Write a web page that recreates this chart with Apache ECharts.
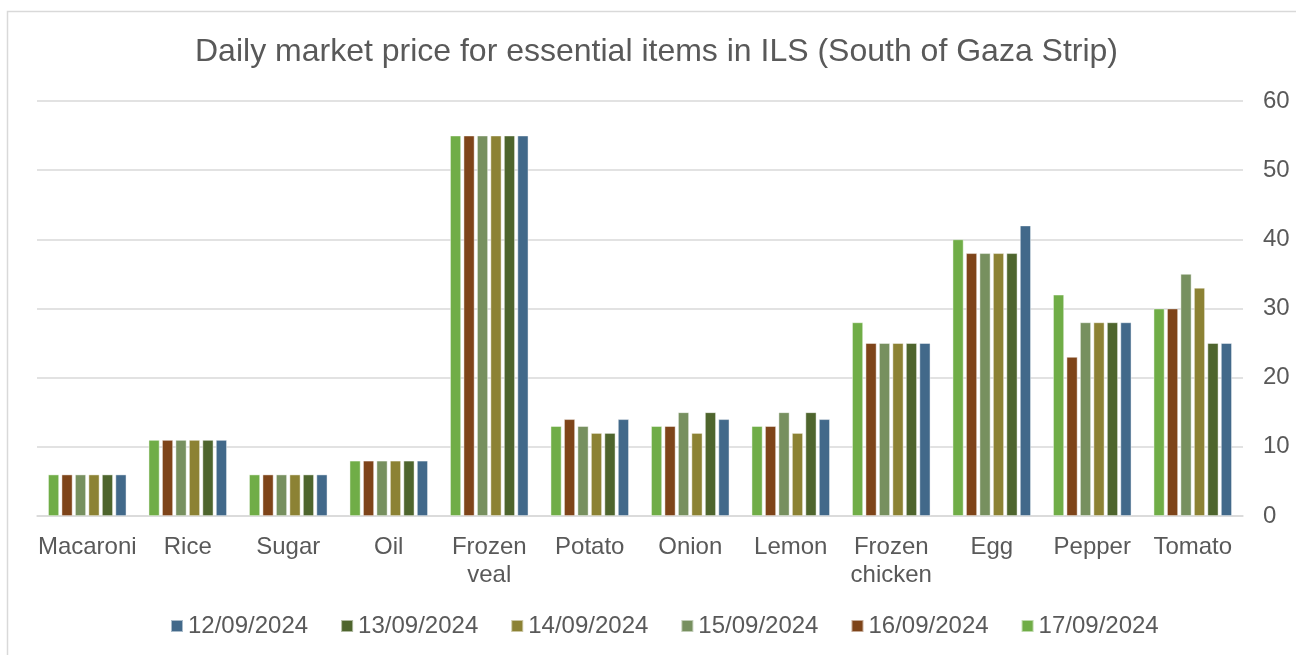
<!DOCTYPE html>
<html>
<head>
<meta charset="utf-8">
<title>Daily market price for essential items in ILS</title>
<script src="https://cdn.jsdelivr.net/npm/echarts@6/dist/echarts.min.js"></script>
<style>
  html, body { margin: 0; padding: 0; background: #fff; }
  #chart { width: 1296px; height: 655px; }
</style>
</head>
<body>
<div id="chart"></div>
<script>
// categories on the x axis
var categories = ['Macaroni', 'Rice', 'Sugar', 'Oil', 'Frozen\nveal', 'Potato', 'Onion',
  'Lemon', 'Frozen\nchicken', 'Egg', 'Pepper', 'Tomato'];

// prices per day (ILS), same order as categories
var d17 = [6, 11, 6, 8, 55, 13, 13, 13, 28, 40, 32, 30];
var d16 = [6, 11, 6, 8, 55, 14, 13, 13, 25, 38, 23, 30];
var d15 = [6, 11, 6, 8, 55, 13, 15, 15, 25, 38, 28, 35];
var d14 = [6, 11, 6, 8, 55, 12, 12, 12, 25, 38, 28, 33];
var d13 = [6, 11, 6, 8, 55, 12, 15, 15, 25, 38, 28, 25];
var d12 = [6, 11, 6, 8, 55, 14, 14, 14, 25, 42, 28, 25];

var yTicks = [0, 10, 20, 30, 40, 50, 60];

// bars are drawn 17/09 first (left), legend lists 12/09 first
var days = [
  { name: '17/09/2024', data: d17, color: '#70ad47' },
  { name: '16/09/2024', data: d16, color: '#7e4419' },
  { name: '15/09/2024', data: d15, color: '#77905f' },
  { name: '14/09/2024', data: d14, color: '#8c8234' },
  { name: '13/09/2024', data: d13, color: '#4e652d' },
  { name: '12/09/2024', data: d12, color: '#42698a' }
];

var FONT = '"Liberation Sans", Arial, sans-serif';
var TEXT = '#595959';

var chart = echarts.init(document.getElementById('chart'));

chart.setOption({
  backgroundColor: '#fff',
  animation: false,
  textStyle: { fontFamily: FONT },
  graphic: [{
    type: 'rect',
    shape: { x: 7.5, y: 11.5, width: 1400, height: 700 },
    style: { fill: 'none', stroke: '#d9d9d9', lineWidth: 1.5 },
    silent: true
  }],
  title: {
    text: 'Daily market price for essential items in ILS (South of Gaza Strip)',
    left: 190,
    top: 31,
    textStyle: { fontFamily: FONT, fontSize: 32, fontWeight: 'normal', color: TEXT }
  },
  legend: {
    data: days.map(function (d) { return d.name; }).reverse(),
    bottom: 12,
    left: 165,
    icon: 'rect',
    itemWidth: 12,
    itemHeight: 12,
    itemGap: 32,
    textStyle: { fontFamily: FONT, fontSize: 24, color: TEXT }
  },
  grid: { left: 37, right: 53, top: 101, bottom: 139 },
  xAxis: {
    type: 'category',
    data: categories,
    axisLine: { lineStyle: { color: '#d9d9d9', width: 1.5 } },
    axisTick: { show: false },
    axisLabel: {
      fontFamily: FONT, fontSize: 24, color: TEXT, lineHeight: 28,
      margin: 17, interval: 0
    }
  },
  yAxis: {
    type: 'value',
    position: 'right',
    min: yTicks[0],
    max: yTicks[yTicks.length - 1],
    interval: 10,
    axisLine: { show: false },
    axisTick: { show: false },
    splitLine: { lineStyle: { color: '#d9d9d9', width: 1.5 } },
    axisLabel: { fontFamily: FONT, fontSize: 24, color: TEXT, margin: 20 }
  },
  series: days.map(function (d) {
    return {
      name: d.name,
      type: 'bar',
      data: d.data,
      barGap: '22%',
      barCategoryGap: '22%',
      itemStyle: { color: d.color, borderColor: 'rgba(255,255,255,0.55)', borderWidth: 0.8 }
    };
  })
});
</script>
</body>
</html>
